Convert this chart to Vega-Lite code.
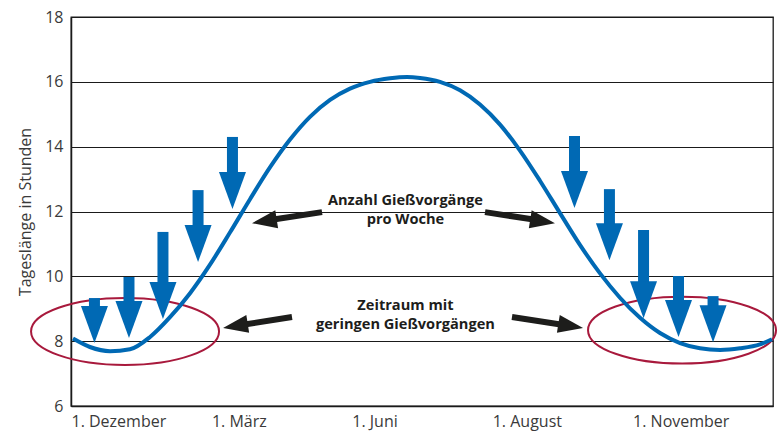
{
  "$schema": "https://vega.github.io/schema/vega-lite/v6.json",
  "width": 702,
  "height": 389,
  "autosize": "none",
  "padding": {"left": 71, "top": 17, "right": 6, "bottom": 36},
  "background": "white",
  "config": {
    "view": {"stroke": "#1a1a1a", "strokeWidth": 1.3},
    "font": "Open Sans"
  },
  "datasets": {
    "curve": [
      {"x": 0.014, "y": 8.08}, {"x": 0.135, "y": 7.82}, {"x": 0.278, "y": 7.69}, {"x": 0.420, "y": 7.75},
      {"x": 0.563, "y": 8.13}, {"x": 0.705, "y": 8.74}, {"x": 0.848, "y": 9.48}, {"x": 0.990, "y": 10.36},
      {"x": 1.132, "y": 11.35}, {"x": 1.275, "y": 12.38}, {"x": 1.417, "y": 13.36}, {"x": 1.560, "y": 14.22},
      {"x": 1.702, "y": 14.92}, {"x": 1.845, "y": 15.44}, {"x": 1.987, "y": 15.79}, {"x": 2.130, "y": 16.00},
      {"x": 2.272, "y": 16.11}, {"x": 2.393, "y": 16.15}, {"x": 2.486, "y": 16.12}, {"x": 2.628, "y": 16.00},
      {"x": 2.771, "y": 15.74}, {"x": 2.913, "y": 15.30}, {"x": 3.056, "y": 14.68}, {"x": 3.198, "y": 13.88},
      {"x": 3.340, "y": 12.95}, {"x": 3.483, "y": 11.95}, {"x": 3.625, "y": 10.97}, {"x": 3.768, "y": 10.09},
      {"x": 3.910, "y": 9.34}, {"x": 4.053, "y": 8.72}, {"x": 4.195, "y": 8.25}, {"x": 4.338, "y": 7.94},
      {"x": 4.480, "y": 7.78}, {"x": 4.623, "y": 7.73}, {"x": 4.765, "y": 7.78}, {"x": 4.907, "y": 7.90},
      {"x": 4.993, "y": 8.06}
    ],
    "waterArrows": [
      {"x": 0.167, "top": 9.33, "neck": 9.04, "tip": 7.94},
      {"x": 0.413, "top": 9.98, "neck": 9.20, "tip": 8.10},
      {"x": 0.655, "top": 11.37, "neck": 9.78, "tip": 8.68},
      {"x": 0.905, "top": 12.66, "neck": 11.54, "tip": 10.44},
      {"x": 1.150, "top": 14.30, "neck": 13.18, "tip": 12.08},
      {"x": 3.586, "top": 14.33, "neck": 13.21, "tip": 12.11},
      {"x": 3.835, "top": 12.69, "neck": 11.60, "tip": 10.50},
      {"x": 4.078, "top": 11.43, "neck": 9.81, "tip": 8.71},
      {"x": 4.327, "top": 10.01, "neck": 9.23, "tip": 8.13},
      {"x": 4.573, "top": 9.39, "neck": 9.07, "tip": 7.97}
    ],
    "ellipses": [
      {"x": 0.385, "y": 8.30},
      {"x": 4.352, "y": 8.34}
    ],
    "pointers": [
      {"dir": "left", "x0": 1.788, "y0": 11.98, "x1": 1.453, "y1": 11.76, "xt": 1.289, "yt": 11.64},
      {"dir": "right", "x0": 2.949, "y0": 11.98, "x1": 3.283, "y1": 11.76, "xt": 3.447, "yt": 11.64},
      {"dir": "left", "x0": 1.574, "y0": 8.745, "x1": 1.246, "y1": 8.52, "xt": 1.083, "yt": 8.41},
      {"dir": "right", "x0": 3.141, "y0": 8.745, "x1": 3.476, "y1": 8.52, "xt": 3.647, "yt": 8.41}
    ],
    "labels": [
      {"x": 2.382, "y": 12.33, "text": "Anzahl Gießvorgänge"},
      {"x": 2.382, "y": 11.74, "text": "pro Woche"},
      {"x": 2.382, "y": 9.08, "text": "Zeitraum mit"},
      {"x": 2.382, "y": 8.50, "text": "geringen Gießvorgängen"}
    ]
  },
  "layer": [
    {
      "data": {"name": "ellipses"},
      "mark": {"type": "point", "shape": "M -1 0 A 1 0.356 0 1 0 1 0 A 1 0.356 0 1 0 -1 0 Z", "size": 35344, "filled": false, "stroke": "#a8193c", "strokeWidth": 2, "opacity": 1},
      "encoding": {
        "x": {"field": "x", "type": "quantitative", "scale": {"domain": [0, 5], "nice": false, "zero": false},
          "axis": {"values": [0, 1, 2, 3, 4], "title": null, "grid": false, "ticks": false, "tickSize": 0,
            "labelExpr": "['1. Dezember', '1. März', '1. Juni', '1. August', '1. November'][datum.value]",
            "labelAlign": "left", "labelBaseline": "top", "labelPadding": 7, "labelFontSize": 16, "labelFont": "Open Sans",
            "labelColor": "#3a3a3a", "labelFlush": false, "labelOverlap": false, "domainColor": "#1a1a1a", "domainWidth": 1.5}},
        "y": {"field": "y", "type": "quantitative", "scale": {"domain": [6, 18], "nice": false, "zero": false},
          "axis": {"values": [6, 8, 10, 12, 14, 16, 18], "title": "Tageslänge in Stunden", "grid": true, "gridColor": "#1a1a1a", "gridWidth": 1.2,
            "ticks": false, "tickSize": 0, "labelPadding": 8, "labelFontSize": 16, "labelFont": "Open Sans", "labelColor": "#3a3a3a",
            "domainColor": "#1a1a1a", "domainWidth": 1.5,
            "titleFont": "Open Sans", "titleFontSize": 16, "titleFontWeight": "normal", "titleColor": "#3a3a3a",
            "titleAngle": -90, "titleX": -45.5, "titleY": 194.5, "titleAlign": "center", "titleBaseline": "middle"}}
      }
    },
    {
      "data": {"name": "curve"},
      "mark": {"type": "line", "color": "#0069b4", "strokeWidth": 4, "interpolate": "monotone"},
      "encoding": {
        "x": {"field": "x", "type": "quantitative"},
        "y": {"field": "y", "type": "quantitative"}
      }
    },
    {
      "data": {"name": "waterArrows"},
      "mark": {"type": "rule", "color": "#0069b4", "strokeWidth": 11},
      "encoding": {
        "x": {"field": "x", "type": "quantitative"},
        "y": {"field": "top", "type": "quantitative"},
        "y2": {"field": "neck"}
      }
    },
    {
      "data": {"name": "waterArrows"},
      "mark": {"type": "point", "shape": "M -0.73 -2 L 0.73 -2 L 0 0 Z", "size": 1369, "filled": true, "fill": "#0069b4", "strokeWidth": 0, "opacity": 1},
      "encoding": {
        "x": {"field": "x", "type": "quantitative"},
        "y": {"field": "tip", "type": "quantitative"}
      }
    },
    {
      "data": {"name": "pointers"},
      "mark": {"type": "rule", "color": "#1d1d1b", "strokeWidth": 6},
      "encoding": {
        "x": {"field": "x0", "type": "quantitative"},
        "y": {"field": "y0", "type": "quantitative"},
        "x2": {"field": "x1"},
        "y2": {"field": "y1"}
      }
    },
    {
      "data": {"name": "pointers"},
      "transform": [{"filter": "datum.dir === 'left'"}],
      "mark": {"type": "point", "shape": "M 0 0 L -2 -0.72 L -2 0.72 Z", "size": 625, "filled": true, "fill": "#1d1d1b", "strokeWidth": 0, "opacity": 1, "angle": 171},
      "encoding": {
        "x": {"field": "xt", "type": "quantitative"},
        "y": {"field": "yt", "type": "quantitative"}
      }
    },
    {
      "data": {"name": "pointers"},
      "transform": [{"filter": "datum.dir === 'right'"}],
      "mark": {"type": "point", "shape": "M 0 0 L -2 -0.72 L -2 0.72 Z", "size": 625, "filled": true, "fill": "#1d1d1b", "strokeWidth": 0, "opacity": 1, "angle": 9},
      "encoding": {
        "x": {"field": "xt", "type": "quantitative"},
        "y": {"field": "yt", "type": "quantitative"}
      }
    },
    {
      "data": {"name": "labels"},
      "mark": {"type": "text", "font": "Open Sans", "fontSize": 14.6, "fontWeight": "bold", "color": "#1d1d1b", "align": "center", "baseline": "middle"},
      "encoding": {
        "x": {"field": "x", "type": "quantitative"},
        "y": {"field": "y", "type": "quantitative"},
        "text": {"field": "text"}
      }
    }
  ]
}
